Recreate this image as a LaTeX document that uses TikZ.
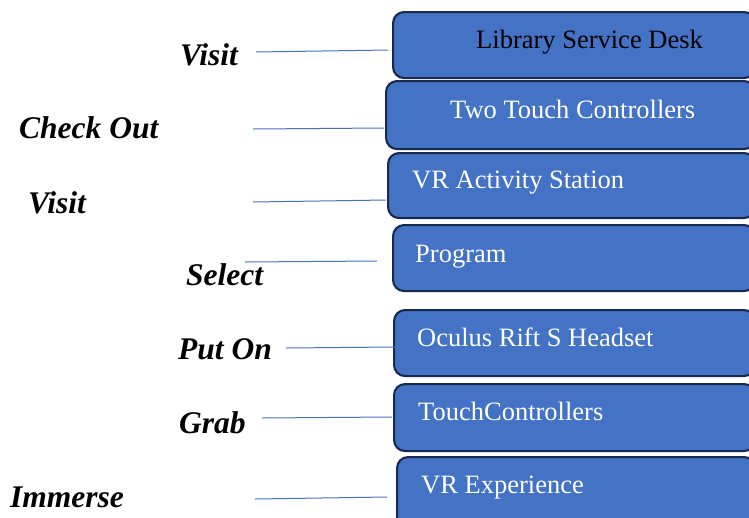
\documentclass[tikz,border=0pt]{standalone}
\usepackage{fontspec}
\setmainfont{Liberation Serif}
\definecolor{boxfill}{HTML}{4472C4}
\definecolor{boxedge}{HTML}{172A4E}
\definecolor{linkblue}{HTML}{4472C4}
\tikzset{
  stepbox/.style={draw=boxedge, line width=2.1pt, fill=boxfill, rounded corners=11pt,
    anchor=north west, inner sep=0pt},
  boxtext/.style={anchor=base west, inner sep=0pt, text=white,
    font=\fontsize{26.5}{30}\selectfont},
  verb/.style={anchor=base west, inner sep=0pt,
    font=\fontsize{31.5}{36}\selectfont\bfseries\itshape},
  link/.style={draw=linkblue, line width=1pt}
}
\begin{document}
\begin{tikzpicture}[x=1pt,y=-1pt]
\useasboundingbox (0,0) rectangle (749,517);
\clip (0,0) rectangle (749,517);

% step boxes (right column)
\node[stepbox, minimum width=362pt, minimum height=66pt] (b1) at (392,11) {};
\node[stepbox, minimum width=369pt, minimum height=68pt] (b2) at (385,80) {};
\node[stepbox, minimum width=367pt, minimum height=65pt] (b3) at (387,152) {};
\node[stepbox, minimum width=362pt, minimum height=66pt] (b4) at (392,224) {};
\node[stepbox, minimum width=361pt, minimum height=66pt] (b5) at (393,309) {};
\node[stepbox, minimum width=361pt, minimum height=67pt] (b6) at (393,383) {};
\node[stepbox, minimum width=358pt, minimum height=75pt] (b7) at (396,456) {};

% box captions
\node[boxtext, text=black] (t1) at (476,48) {Library Service Desk};
\node[boxtext] (t2) at (450,118) {Two Touch Controllers};
\node[boxtext] (t3) at (412,188) {VR Activity Station};
\node[boxtext] (t4) at (415,262) {Program};
\node[boxtext] (t5) at (417,346) {Oculus Rift S Headset};
\node[boxtext] (t6) at (418,420) {TouchControllers};
\node[boxtext] (t7) at (421,493) {VR Experience};

% action verbs (left column)
\node[verb] (v1) at (180,65) {Visit};
\node[verb] (v2) at (19,138) {Check Out};
\node[verb] (v3) at (28,213) {Visit};
\node[verb] (v4) at (186,285) {Select};
\node[verb] (v5) at (178,359) {Put On};
\node[verb] (v6) at (179,433) {Grab};
\node[verb] (v7) at (10,507) {Immerse};

% connector end points
\coordinate (s1) at (256,52);  \coordinate (e1) at (388,50);
\coordinate (s2) at (253,129); \coordinate (e2) at (384,128);
\coordinate (s3) at (253,202); \coordinate (e3) at (386,200);
\coordinate (s4) at (245,262); \coordinate (e4) at (377,261);
\coordinate (s5) at (286,348); \coordinate (e5) at (395,347);
\coordinate (s6) at (262,418); \coordinate (e6) at (392,417);
\coordinate (s7) at (255,499); \coordinate (e7) at (387,497);

\foreach \i in {1,...,7} {
  \draw[link] (s\i) -- (e\i);
}
\end{tikzpicture}
\end{document}
